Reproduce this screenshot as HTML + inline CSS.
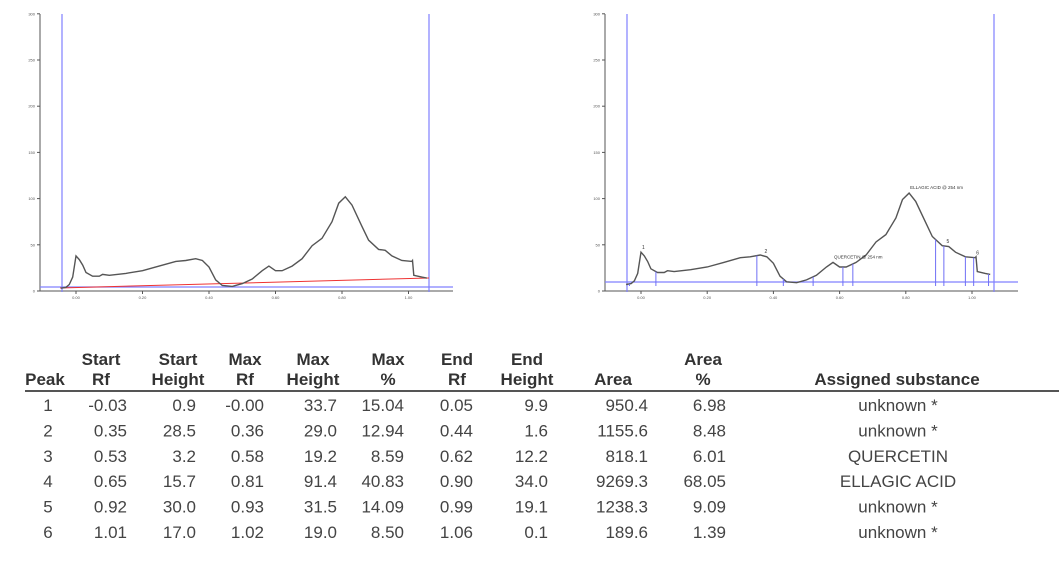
<!DOCTYPE html>
<html><head><meta charset="utf-8"><style>
body{margin:0;background:#fff;width:1062px;height:562px;overflow:hidden}
svg{display:block;font-family:"Liberation Sans",Arial,sans-serif}
</style></head><body>
<svg id="root" width="1062" height="562">
<g id="charts"></g>
<g id="table"></g>
</svg>
<script>
const rfVals=[-0.045,-0.03,-0.02,-0.01,0.0,0.01,0.02,0.03,0.05,0.07,0.08,0.10,0.15,0.20,0.25,0.30,0.33,0.36,0.38,0.40,0.42,0.44,0.47,0.50,0.53,0.56,0.58,0.60,0.62,0.65,0.68,0.71,0.74,0.77,0.79,0.81,0.83,0.86,0.88,0.91,0.93,0.95,0.98,1.01,1.012,1.016,1.04,1.055];
const heights=[3,4,7,15,38,34,28,20,16,16,18,17,19,22,27,32,33,35,33,26,12,6,5,8,13,22,27,22,22,27,35,49,57,75,95,102,93,70,55,45,44,38,33,32,33,17,15,14];
const yTicks=[0,50,100,150,200,250,300];
const xTicks=[0,0.2,0.4,0.6,0.8,1.0];
const xTickLabels=["0.00","0.20","0.40","0.60","0.80","1.00"];
const boundRf=[-0.035,0.045,0.35,0.43,0.52,0.61,0.64,0.89,0.915,0.98,1.005,1.05];
const peakLabels=["1","2","5","6"];
const peakLabelRf=[0.0,0.37,0.92,1.01];
const substanceLabels=["QUERCETIN @ 254 nm","ELLAGIC ACID @ 254 nm"];
const substanceRf=[0.58,0.81];

const headers1=["","Start","Start","Max","Max","Max","End","End","","Area",""];
const headers2=["Peak","Rf","Height","Rf","Height","%","Rf","Height","Area","%","Assigned substance"];
const rows=[
["1","-0.03","0.9","-0.00","33.7","15.04","0.05","9.9","950.4","6.98","unknown *"],
["2","0.35","28.5","0.36","29.0","12.94","0.44","1.6","1155.6","8.48","unknown *"],
["3","0.53","3.2","0.58","19.2","8.59","0.62","12.2","818.1","6.01","QUERCETIN"],
["4","0.65","15.7","0.81","91.4","40.83","0.90","34.0","9269.3","68.05","ELLAGIC ACID"],
["5","0.92","30.0","0.93","31.5","14.09","0.99","19.1","1238.3","9.09","unknown *"],
["6","1.01","17.0","1.02","19.0","8.50","1.06","0.1","189.6","1.39","unknown *"]];

const NS="http://www.w3.org/2000/svg";
function mk(tag,attrs,parent,text){const e=document.createElementNS(NS,tag);for(const k in attrs)e.setAttribute(k,attrs[k]);if(text!==undefined)e.textContent=text;parent.appendChild(e);return e;}

function chart(ox,x0,scale,vline1,vline2,base,annot,name){
  const g=mk('g',{},document.getElementById('charts'));
  
  
  const X=rf=>x0+rf*scale, Y=v=>291-v*0.924;
  const ax=mk('path',{d:`M${ox} 14V291H${ox+413}`,stroke:'#555',fill:'none','stroke-width':1},g);
  
  yTicks.forEach(t=>{mk('line',{x1:ox-3,x2:ox,y1:Y(t),y2:Y(t),stroke:'#555'},g);
    const l=mk('text',{x:ox-5,y:Y(t)+1.5,'font-size':4,'text-anchor':'end',fill:'#555'},g,String(t));
    });
  xTicks.forEach((t,i)=>{mk('line',{x1:X(t),x2:X(t),y1:291,y2:294,stroke:'#555'},g);
    const l=mk('text',{x:X(t),y:299,'font-size':4,'text-anchor':'middle',fill:'#555'},g,xTickLabels[i]);
    });
  const bl=mk('line',{x1:ox,x2:ox+413,y1:base,y2:base,stroke:'#8080ff','stroke-width':1.2},g);
  
  [vline1,vline2].forEach(v=>{const l=mk('line',{x1:v,x2:v,y1:14,y2:292,stroke:'#8080ff','stroke-width':1.2},g);
    });
  const off=annot?4:0;
  const d=rfVals.map((r,i)=>(i?'L':'M')+X(r).toFixed(1)+' '+Y(heights[i]+off).toFixed(1)).join('');
  if(!annot){const r=mk('line',{x1:X(rfVals[0])-1,y1:288,x2:vline2,y2:278,stroke:'#e33','stroke-width':1},g);
    }
  const p=mk('path',{d,stroke:'#555',fill:'none','stroke-width':1.4},g);
  
  if(annot){
    const interp=r=>{for(let i=1;i<rfVals.length;i++)if(r<=rfVals[i]){const t=(r-rfVals[i-1])/(rfVals[i]-rfVals[i-1]);return heights[i-1]+t*(heights[i]-heights[i-1]);}return heights[heights.length-1];};
    boundRf.forEach(r=>{const l=mk('line',{x1:X(r),x2:X(r),y1:base+4,y2:Y(interp(r)+off),stroke:'#6f6ff5','stroke-width':1},g);
      });
    peakLabels.forEach((s,i)=>{const r=peakLabelRf[i];const l=mk('text',{x:X(r)+1,y:Y(interp(r)+off)-3,'font-size':5,fill:'#333'},g,s);
      });
    substanceLabels.forEach((s,i)=>{const r=substanceRf[i];const l=mk('text',{x:X(r)+1,y:Y(interp(r)+off)-4,'font-size':4.5,fill:'#333'},g,s);
      });
  }
}
chart(40,76,332.5,62,429,287,false,'left-chart');
chart(605,641,331,627,994,282,true,'right-chart');

const T=document.getElementById('table');
const colX=[48,127,196,264,337,404,473,548,648,726,898];
const anchor=['middle','end','end','end','end','end','end','end','end','end','middle'];
const hX=[45,101,178,245,313,388,457,527,613,703,897];
headers1.forEach((h,i)=>{if(!h)return;const t=mk('text',{x:hX[i],y:365,'font-size':17,'font-weight':'bold','text-anchor':'middle',fill:'#333'},T,h);
  });
headers2.forEach((h,i)=>{const t=mk('text',{x:hX[i],y:385,'font-size':17,'font-weight':'bold','text-anchor':'middle',fill:'#333'},T,h);
  });
const hl=mk('line',{x1:25,x2:1059,y1:391,y2:391,stroke:'#555','stroke-width':2},T);

rows.forEach((r,ri)=>{const y=411+ri*25.4;r.forEach((c,ci)=>{const t=mk('text',{x:colX[ci],y,'font-size':17,'text-anchor':anchor[ci],fill:'#444'},T,c);
  });});
</script>
</body></html>
